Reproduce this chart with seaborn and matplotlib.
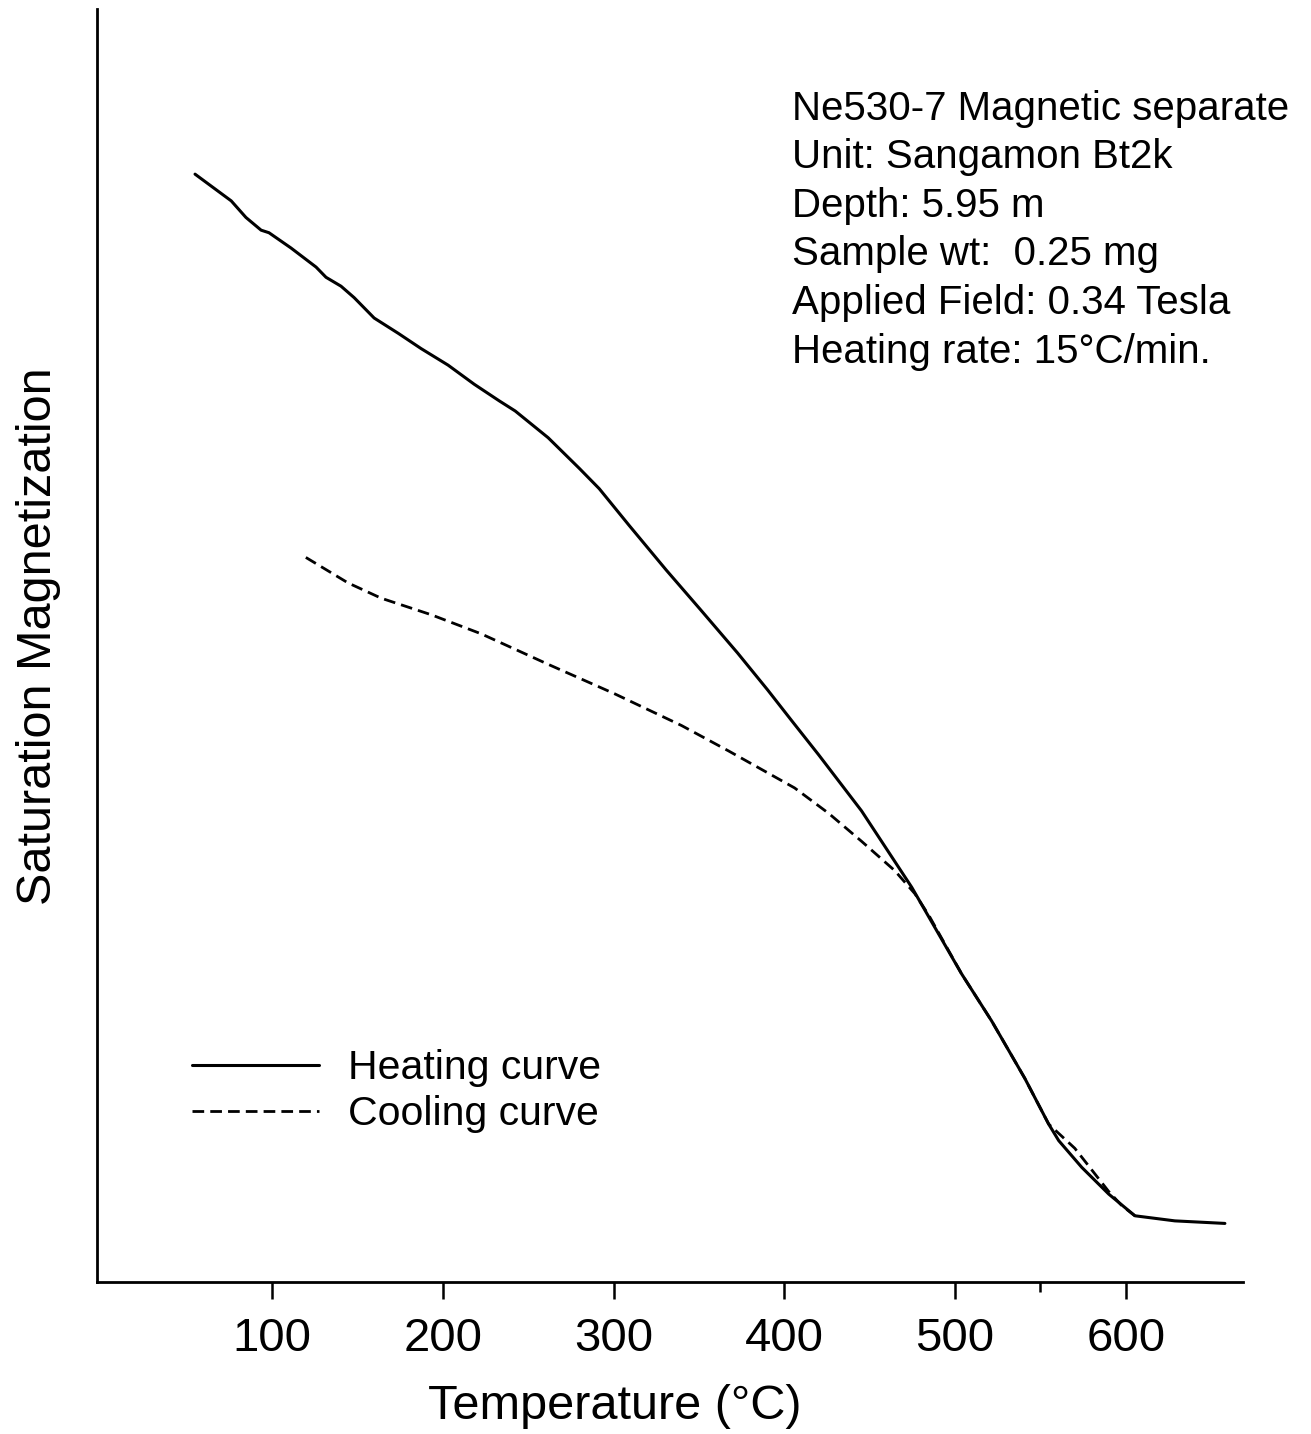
import pandas as pd
import seaborn as sns
import matplotlib.pyplot as plt

# heating curve, temperature [C] vs saturation magnetization (arbitrary units)
heat_temp = [54.9, 76.1, 84.7, 93.6, 98.2, 111.1, 125.8, 131.6, 140.4, 148.1,
             159.8, 173.9, 187.3, 203.1, 218.4, 233.0, 242.4, 261.7, 279.9, 291.6,
             309.2, 330.9, 350.9, 372.6, 390.2, 404.2, 420.1, 445.2, 474.6, 503.8,
             521.4, 540.8, 554.8, 560.7, 574.2, 590.0, 605.3, 628.7, 658.0]
heat_mag = [0.870, 0.849, 0.836, 0.826, 0.824, 0.812, 0.797, 0.789, 0.782, 0.773,
            0.757, 0.745, 0.733, 0.720, 0.705, 0.692, 0.684, 0.663, 0.639, 0.623,
            0.594, 0.559, 0.528, 0.494, 0.465, 0.441, 0.414, 0.370, 0.310, 0.242,
            0.205, 0.160, 0.124, 0.111, 0.090, 0.069, 0.052, 0.048, 0.046]

# cooling curve
cool_temp = [119.8, 144.5, 163.9, 193.2, 222.5, 261.8, 300.5, 339.8, 367.4, 406.0,
             426.0, 445.3, 464.7, 476.4, 484.6, 503.8, 521.4, 540.8, 554.8, 570.1,
             590.0, 597.6, 605.3]
cool_mag = [0.569, 0.549, 0.537, 0.524, 0.509, 0.485, 0.462, 0.437, 0.417, 0.388,
            0.368, 0.346, 0.323, 0.305, 0.288, 0.242, 0.205, 0.160, 0.124, 0.105,
            0.071, 0.060, 0.052]

x_ticks = [100, 200, 300, 400, 500, 600]

info_lines = ["Ne530-7 Magnetic separate",
              "Unit: Sangamon Bt2k",
              "Depth: 5.95 m",
              "Sample wt:  0.25 mg",
              "Applied Field: 0.34 Tesla",
              "Heating rate: 15\u00b0C/min."]

heat = pd.DataFrame({"temp": heat_temp, "mag": heat_mag})
cool = pd.DataFrame({"temp": cool_temp, "mag": cool_mag})

sns.set_style("ticks")
plt.rcParams['font.family'] = ['Liberation Sans', 'DejaVu Sans']
plt.rcParams['text.color'] = 'black'
plt.rcParams['axes.labelcolor'] = 'black'
plt.rcParams['xtick.color'] = 'black'

fig = plt.figure(figsize=(13.11, 14.34), dpi=100)
ax = fig.add_axes([0.074, 0.106, 0.874, 0.888])

sns.lineplot(x="temp", y="mag", data=heat, sort=False, estimator=None, color="black",
             linewidth=2.2, label="Heating curve", ax=ax)
sns.lineplot(x="temp", y="mag", data=cool, sort=False, estimator=None, color="black",
             linewidth=2.0, dashes=(4.2, 2.2), label="Cooling curve", ax=ax)

ax.set_xlim(-2.5, 668.5)
ax.set_ylim(0, 1)
ax.set_xticks(x_ticks)
ax.set_xticks([550], minor=True)
ax.set_yticks([])
ax.tick_params(axis='x', which='major', direction='out', length=12, width=1.8,
               pad=13, labelsize=34, colors='black')
ax.tick_params(axis='x', which='minor', direction='out', length=7, width=1.8)

for side in ['top', 'right']:
    ax.spines[side].set_visible(False)
for side in ['left', 'bottom']:
    ax.spines[side].set_linewidth(2.0)
    ax.spines[side].set_color('black')

ax.set_xlabel("Temperature (\u00b0C)", fontsize=35)
ax.set_ylabel("Saturation Magnetization", fontsize=35)
ax.xaxis.set_label_coords(0.452, -0.080)
ax.yaxis.set_label_coords(-0.031, 0.507)

# sample info block, one line at a time
for i, line in enumerate(info_lines):
    py = 119 + 48.6 * i
    ax.text(0.6065, (1281 - py) / 1273, line, transform=ax.transAxes,
            fontsize=29, va='baseline', ha='left', color='black')

legend = ax.legend(loc='center left', bbox_to_anchor=(0.0829, 0.150), frameon=False,
                   fontsize=29.5, handlelength=3.1, handletextpad=0.7,
                   labelspacing=0.2, borderpad=0, borderaxespad=0)
for t in legend.get_texts():
    t.set_color('black')

plt.savefig('out.png', dpi=100)
